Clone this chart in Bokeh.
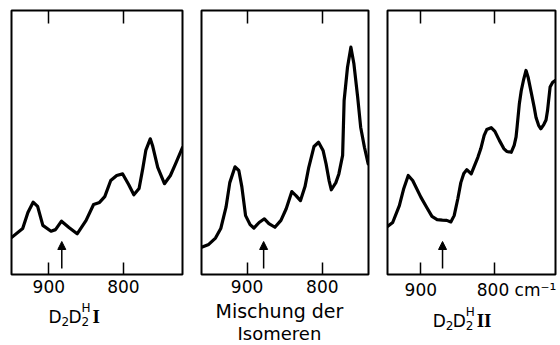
from bokeh.plotting import figure
from bokeh.layouts import row, column
from bokeh.models import Range1d, LinearAxis, FixedTicker, Label, Arrow, NormalHead
from bokeh.embed import file_html
from bokeh.resources import INLINE

# ---------------- data (wavenumber in cm-1, transmission-like signal, arbitrary units) ----------------
tick_values = [900, 800]
tick_labels = {900: "900", 800: "800"}
unit_label = "cm⁻¹"

# Panel 1: D2D2H I
wn1 = [950, 935, 928, 921, 915, 908, 897, 891, 883, 873, 862, 850, 840, 832, 825,
       817, 809, 801, 793, 786, 779, 774, 770, 764, 761, 754, 745, 737, 730, 721]
val1 = [14.0, 17.4, 23.5, 27.4, 25.8, 18.6, 16.4, 17.0, 20.2, 17.8, 15.4, 20.5, 26.5, 27.3, 29.5,
        35.6, 37.5, 38.1, 34.1, 30.2, 32.6, 40.2, 47.0, 51.4, 48.9, 40.6, 34.4, 37.5, 42.0, 48.0]

# Panel 2: Mischung der Isomeren
wn2 = [960.5, 951, 942, 935, 928, 923, 916, 911, 907, 902, 896, 891, 884, 877, 871,
       863, 855, 848, 840.5, 835, 829, 823, 818, 811, 805, 799, 795, 791, 788, 782,
       778, 773, 771, 766.5, 762, 758, 753, 749, 744, 739]
val2 = [10.3, 11.4, 13.8, 17.4, 25.5, 34.8, 40.8, 39.4, 33.3, 22.3, 18.9, 17.6, 19.7, 21.1, 19.3,
        17.9, 20.5, 24.9, 31.4, 29.9, 28.0, 33.3, 40.6, 48.5, 50.1, 47.0, 41.9, 35.6, 32.1, 34.8,
        38.1, 45.1, 65.9, 78.5, 86.1, 79.8, 67.2, 55.8, 48.2, 41.9]

# Panel 3: D2D2H II
wn3 = [945, 938, 929, 923, 917, 911, 900, 892, 885, 878, 871, 865, 859.5, 855, 850,
       846, 842, 838, 832, 823, 819, 814.5, 811, 805, 800, 794, 788, 784, 778, 774,
       771.5, 770, 767, 764.5, 761.5, 758, 755, 751, 747, 744.5, 741, 738, 734, 731,
       729, 725.5, 722, 718.2]
val3 = [18.2, 19.7, 26.1, 32.6, 37.5, 35.6, 29.3, 25.4, 22.0, 20.8, 20.6, 20.5, 19.9, 22.3, 28.8,
        34.8, 38.3, 39.7, 38.1, 44.4, 47.7, 52.7, 54.9, 55.6, 54.2, 50.8, 47.7, 46.6, 46.3, 48.9,
        52.0, 56.0, 64.7, 69.5, 73.5, 77.3, 74.5, 69.0, 63.4, 59.5, 56.5, 55.2, 56.8, 58.5,
        62.0, 71.0, 72.8, 73.5]

# marked band (arrow) positions, cm-1
arrow_wn = [882.6, 878.0, 870.7]

x_ranges = [(950.0, 720.8), (960.6, 738.6), (945.0, 718.2)]

FONT = "DejaVu Sans"
PANEL_BOTTOM = 24
CAP_H = 345 - 10 - 264 - PANEL_BOTTOM


def make_panel(wn, val, xr, frame_w, bl, br, arrow_x, overrides):
    p = figure(frame_width=frame_w, frame_height=264,
               x_range=Range1d(xr[0], xr[1]), y_range=Range1d(0, 100),
               min_border_left=bl, min_border_right=br, min_border_top=10,
               min_border_bottom=PANEL_BOTTOM,
               y_axis_location=None, toolbar_location=None, output_backend="svg")
    p.grid.visible = False
    p.outline_line_color = "black"
    p.outline_line_width = 2
    p.outline_line_alpha = 1.0
    p.background_fill_color = "white"
    p.border_fill_color = "white"

    ax = p.xaxis[0]
    ax.ticker = FixedTicker(ticks=tick_values)
    ax.major_label_overrides = overrides
    ax.major_tick_in = 12
    ax.major_tick_out = 0
    ax.major_tick_line_width = 1.5
    ax.major_tick_line_color = "black"
    ax.minor_tick_line_color = None
    ax.axis_line_color = None
    ax.major_label_text_font = FONT
    ax.major_label_text_font_size = "17px"
    ax.major_label_text_color = "black"
    ax.major_label_standoff = 5

    top = LinearAxis(ticker=FixedTicker(ticks=tick_values), major_tick_in=13, major_tick_out=0,
                     major_tick_line_width=1.5, axis_line_color=None, minor_tick_line_color=None,
                     major_label_text_color=None, major_label_standoff=0)
    p.add_layout(top, "above")

    p.line(wn, val, line_width=3.2, line_color="black", line_join="round", line_cap="round")

    p.add_layout(Arrow(end=NormalHead(size=8, fill_color="black", line_color="black"),
                       x_start=arrow_x, y_start=2.3, x_end=arrow_x, y_end=12.5,
                       line_width=1.5, line_color="black"))
    return p


def make_caption(p, frame_w, bl, br):
    c = figure(frame_width=frame_w, frame_height=CAP_H, x_range=p.x_range,
               y_range=Range1d(CAP_H, 0),
               min_border_left=bl, min_border_right=br, min_border_top=0, min_border_bottom=0,
               x_axis_location=None, y_axis_location=None, toolbar_location=None,
               output_backend="svg")
    c.grid.visible = False
    c.outline_line_color = None
    c.background_fill_color = "white"
    c.border_fill_color = "white"
    return c


def lab(c, x, y, text, size, x_off=0, y_off=0, font=FONT, style="normal", align="left"):
    c.add_layout(Label(x=x, y=y, text=text, x_offset=x_off, y_offset=y_off,
                       text_font=font, text_font_size=size, text_font_style=style,
                       text_align=align, text_baseline="middle", text_color="black"))


def formula(c, x, y, numeral):
    lab(c, x, y, "D", "17px", 0, 0)
    lab(c, x, y, "2", "12px", 13, -5)
    lab(c, x, y, "D", "17px", 20, 0)
    lab(c, x, y, "2", "12px", 33, -5)
    lab(c, x, y, "H", "12px", 33, 9)
    lab(c, x, y, numeral, "19px", 44, 0, font="Liberation Serif", style="bold")


pad = "\u2007" * 4
ov3 = {900: tick_labels[900], 800: pad + tick_labels[800] + " " + unit_label}

p1 = make_panel(wn1, val1, x_ranges[0], 171, 11, 9, arrow_wn[0], tick_labels)
p2 = make_panel(wn2, val2, x_ranges[1], 167, 10, 10, arrow_wn[1], tick_labels)
p3 = make_panel(wn3, val3, x_ranges[2], 168, 9, 5, arrow_wn[2], ov3)

c1 = make_caption(p1, 171, 11, 9)
c2 = make_caption(p2, 167, 10, 10)
c3 = make_caption(p3, 168, 9, 5)

formula(c1, 900.4, 18, "I")
lab(c2, 857.0, 12, "Mischung der", "19px", align="center")
lab(c2, 857.0, 35, "Isomeren", "18px", align="center")
formula(c3, 884.0, 18, "II")

layout = row(column(p1, c1), column(p2, c2), column(p3, c3))
open("out.html", "w").write(file_html(layout, INLINE))
